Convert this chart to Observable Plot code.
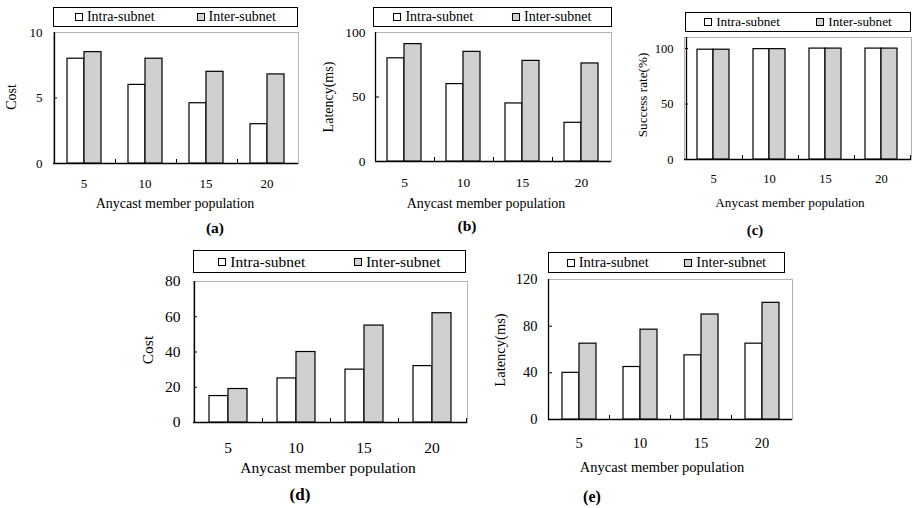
<!DOCTYPE html>
<html><head><meta charset="utf-8">
<script src="https://cdn.jsdelivr.net/npm/d3@7"></script>
<script src="https://cdn.jsdelivr.net/npm/@observablehq/plot@0.6"></script>
<style>
body{margin:0;background:#fff;}
#root{position:relative;width:913px;height:508px;font-family:"Liberation Serif","Times New Roman",serif;color:#000;overflow:hidden;background:#fff}
.layer{position:absolute}
.legend{position:absolute;box-sizing:border-box;border:1px solid #000;display:grid;grid-template-columns:1fr 1fr;align-items:center;background:#fff;font-family:"Liberation Serif","Times New Roman",serif}
.item{display:flex;align-items:center;justify-content:center;white-space:nowrap}
.sw{display:inline-block;width:8px;height:8px;border:1px solid #000;margin-right:4px;box-sizing:border-box}
.ytitle{position:absolute;transform:translate(-50%,-50%) rotate(-90deg);white-space:nowrap}
.xtitle{position:absolute;transform:translate(-50%,-50%);white-space:nowrap}
.cap{position:absolute;transform:translate(-50%,-50%);white-space:nowrap;font-weight:bold}
</style>
</head><body><div id="root"></div>
<script>
// ---- data ----
const populations = [5, 10, 15, 20];
const seriesNames = ["Intra-subnet", "Inter-subnet"];
const seriesColors = ["#ffffff", "#d0d0d0"];
const xTitle = "Anycast member population";

const costIntraA = [8, 6, 4.6, 3];
const costInterA = [8.5, 8, 7, 6.8];
const ticksA = [0, 5, 10];

const latencyIntraB = [80, 60, 45, 30];
const latencyInterB = [91, 85, 78, 76];
const ticksB = [0, 50, 100];

const successIntraC = [99, 99.5, 100, 100];
const successInterC = [99, 99.5, 100, 100];
const ticksC = [0, 50, 100];

const costIntraD = [15, 25, 30, 32];
const costInterD = [19, 40, 55, 62];
const ticksD = [0, 20, 40, 60, 80];

const latencyIntraE = [40, 45, 55, 65];
const latencyInterE = [65, 77, 90, 100];
const ticksE = [0, 40, 80, 120];

// ---- layout ----
const panels = [
  {cap: "(a)", yTitle: "Cost", intra: costIntraA, inter: costInterA, yMax: 10, ticks: ticksA,
   frame: [53, 298, 32, 163], legend: [53, 7, 245, 20], yTitleX: 12, yTitleY: 97, xTitleX: 175, xTitleY: 204,
   capXY: [215, 228], font: 14, tickFont: 13, yGap: 11, tickPad: 15},
  {cap: "(b)", yTitle: "Latency(ms)", intra: latencyIntraB, inter: latencyInterB, yMax: 100, ticks: ticksB,
   frame: [375, 611, 32, 161], legend: [373, 7, 239, 20], yTitleX: 329, yTitleY: 97, xTitleX: 486, xTitleY: 204,
   capXY: [467, 226], font: 14, tickFont: 13.5, yGap: 10, tickPad: 16},
  {cap: "(c)", yTitle: "Success rate(%)", intra: successIntraC, inter: successInterC, yMax: 110, ticks: ticksC,
   frame: [684, 911, 37, 159], legend: [685, 12, 226, 20], yTitleX: 643, yTitleY: 95, xTitleX: 790, xTitleY: 203,
   capXY: [755, 230], font: 13.2, tickFont: 12.5, yGap: 11, tickPad: 15},
  {cap: "(d)", yTitle: "Cost", intra: costIntraD, inter: costInterD, yMax: 80, ticks: ticksD,
   frame: [193, 467, 281, 422], legend: [193, 250, 273, 23], yTitleX: 148, yTitleY: 350, xTitleX: 328, xTitleY: 468,
   capXY: [300, 495], font: 15.5, tickFont: 15.5, yGap: 13, tickPad: 19},
  {cap: "(e)", yTitle: "Latency(ms)", intra: latencyIntraE, inter: latencyInterE, yMax: 120, ticks: ticksE,
   frame: [548, 792, 279, 419], legend: [548, 252, 237, 21], yTitleX: 500, yTitleY: 350, xTitleX: 662, xTitleY: 467,
   capXY: [592, 497], font: 14.5, tickFont: 14.5, yGap: 11, tickPad: 18}
];

const root = document.getElementById("root");
const M = {left: 45, right: 6, top: 6, bottom: 34};
const pad = 0.42;
const inTick = 4;

function place(el, x, y) { el.style.left = x + "px"; el.style.top = y + "px"; root.appendChild(el); }

for (const p of panels) {
  const [x0, x1, y0, y1] = p.frame;
  const W = x1 - x0 + M.left + M.right;
  const H = y1 - y0 + M.top + M.bottom;
  const style = {fontFamily: '"Liberation Serif","Times New Roman",serif', fontSize: p.tickFont + "px", background: "transparent", overflow: "visible", color: "#000"};
  const rows = [];
  populations.forEach((pop, i) => {
    rows.push({pop, series: seriesNames[0], value: p.intra[i]});
    rows.push({pop, series: seriesNames[1], value: p.inter[i]});
  });

  // axes / frame layer (inward ticks like the original)
  const axes = Plot.plot({
    width: W, height: H,
    marginLeft: M.left, marginRight: M.right, marginTop: M.top, marginBottom: M.bottom,
    style,
    x: {type: "point", domain: d3.range(populations.length + 1), padding: 0, tickSize: -inTick, tickFormat: () => "", label: null},
    y: {domain: [0, p.yMax], ticks: p.ticks, tickSize: -inTick, tickPadding: p.yGap + inTick, label: null},
    marks: [
      Plot.frame({stroke: "#b4b4b4"}),
      Plot.ruleY([0], {stroke: "#000", strokeWidth: 1.3}),
      Plot.ruleX([0], {stroke: "#000", strokeWidth: 1.3})
    ]
  });
  axes.classList.add("layer");
  place(axes, x0 - M.left, y0 - M.top);

  // bars layer
  const bars = Plot.plot({
    width: W, height: H,
    marginLeft: M.left, marginRight: M.right, marginTop: M.top, marginBottom: M.bottom,
    style,
    facet: {data: rows, x: "pop"},
    fx: {domain: populations, paddingInner: pad, paddingOuter: pad / 2, axis: "bottom", tickSize: 0, tickPadding: p.tickPad, label: null},
    x: {domain: seriesNames, padding: 0, axis: null},
    y: {domain: [0, p.yMax], axis: null},
    color: {domain: seriesNames, range: seriesColors},
    marks: [
      Plot.barY(rows, {x: "series", y: "value", fill: "series", stroke: "#000", strokeWidth: 1.2})
    ]
  });
  bars.classList.add("layer");
  place(bars, x0 - M.left, y0 - M.top);

  // legend
  const [lx, ly, lw, lh] = p.legend;
  const lg = document.createElement("div");
  lg.className = "legend";
  lg.style.width = lw + "px"; lg.style.height = lh + "px"; lg.style.fontSize = p.font + "px";
  seriesNames.forEach((s, i) => {
    const it = document.createElement("div"); it.className = "item";
    const sw = document.createElement("span"); sw.className = "sw"; sw.style.background = seriesColors[i];
    it.appendChild(sw); it.appendChild(document.createTextNode(s));
    lg.appendChild(it);
  });
  place(lg, lx, ly);

  const yt = document.createElement("div"); yt.className = "ytitle"; yt.textContent = p.yTitle; yt.style.fontSize = p.font + "px";
  place(yt, p.yTitleX, p.yTitleY);
  const xt = document.createElement("div"); xt.className = "xtitle"; xt.textContent = xTitle; xt.style.fontSize = p.font + "px";
  place(xt, p.xTitleX, p.xTitleY);
  const cp = document.createElement("div"); cp.className = "cap"; cp.textContent = p.cap; cp.style.fontSize = (p.font + 1.5) + "px";
  place(cp, p.capXY[0], p.capXY[1]);
}
</script>
</body></html>
